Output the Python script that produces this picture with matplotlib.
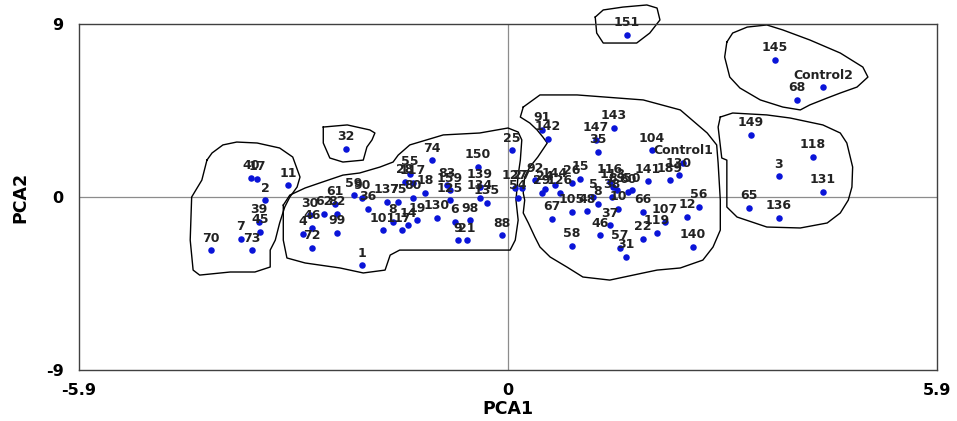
import matplotlib
matplotlib.use("Agg")
import matplotlib.pyplot as plt

plt.rcParams['font.family'] = ['DejaVu Sans']

# ---- data: sample labels and PCA scores ----
labels = [
    # left group
    "40", "17", "11", "2", "39", "45", "7", "73", "70",
    # isolated
    "32",
    # middle group
    "59", "90", "61", "30", "62", "82", "46", "4", "72", "99", "1", "36",
    "137", "75", "101", "17", "14", "19", "8",
    "74", "150", "25", "55", "28", "117", "83", "159", "139", "18", "125",
    "134", "135", "80", "130", "6", "98", "9", "21", "88",
    # right large group
    "91", "142", "143", "147", "35", "104", "Control1", "130", "141", "189",
    "66", "107", "12", "56", "119", "22", "140", "57", "31", "67", "105",
    "48", "8", "10", "37", "46", "58", "92", "27", "24", "144", "29", "126",
    "26", "15", "5", "116", "113", "89", "60", "50", "38", "54", "127",
    # far right groups
    "151", "145", "Control2", "68", "149", "118", "3", "131", "65", "136",
]
pca1 = [
    -3.535, -3.452, -3.026, -3.342, -3.424, -3.411, -3.672, -3.521, -4.085,
    -2.228,
    -2.118, -2.008, -2.379, -2.723, -2.531, -2.352, -2.696, -2.819, -2.696, -2.352, -2.008, -1.925,
    -1.664, -1.513, -1.719, -1.458, -1.375, -1.252, -1.582,
    -1.045, -0.413, 0.055, -1.348, -1.417, -1.307, -0.839, -0.798, -0.385, -1.141, -0.798,
    -0.385, -0.289, -1.307, -0.976, -0.729, -0.523, -0.688, -0.564, -0.083,
    0.468, 0.550, 1.458, 1.210, 1.238, 1.980, 2.407, 2.352, 1.925, 2.228,
    1.857, 2.159, 2.462, 2.627, 2.049, 1.857, 2.544, 1.540, 1.623, 0.605, 0.880,
    1.086, 1.238, 1.513, 1.403, 1.265, 0.880, 0.371, 0.193, 0.509, 0.646, 0.468, 0.715,
    0.880, 0.990, 1.169, 1.403, 1.444, 1.499, 1.650, 1.705, 1.430, 0.138, 0.096,
    1.637, 3.672, 4.332, 3.975, 3.342, 4.195, 3.727, 4.332, 3.314, 3.727,
]
pca2 = [
    0.99, 0.94, 0.62, -0.16, -1.30, -1.82, -2.18, -2.76, -2.76,
    2.50,
    0.10, -0.05, -0.36, -0.94, -0.88, -0.88, -1.61, -1.92, -2.65, -1.87, -3.54, -0.62,
    -0.26, -0.26, -1.72, -1.72, -1.46, -1.20, -1.30,
    1.92, 1.56, 2.44, 1.20, 0.78, 0.73, 0.62, 0.36, 0.52, 0.21, -0.16,
    -0.05, -0.31, -0.05, -1.09, -1.30, -1.20, -2.24, -2.24, -1.98,
    3.49, 3.02, 3.59, 2.97, 2.34, 2.44, 1.77, 1.14, 0.83, 0.88,
    -0.78, -1.30, -1.04, -0.52, -1.87, -2.18, -2.60, -2.65, -3.12, -1.14, -0.78,
    -0.73, -0.36, -0.62, -1.46, -1.98, -2.55, 0.88, 0.47, 0.42, 0.62, 0.21, 0.21,
    0.73, 0.94, 0.00, 0.78, 0.52, 0.36, 0.26, 0.36, 0.00, -0.05, 0.47,
    8.43, 7.13, 5.72, 5.05, 3.23, 2.08, 1.09, 0.26, -0.57, -1.09,
]

# cluster outlines (PCA1, PCA2 vertices)
outline_left_x = [-4.14, -4.07, -3.92, -3.73, -3.45, -3.14, -2.96, -2.86, -2.90, -3.00, -3.07, -3.14,
                  -3.20, -3.27, -3.27, -3.48, -3.82, -4.24, -4.33, -4.37, -4.35, -4.21]
outline_left_y = [1.92, 2.29, 2.71, 2.86, 2.81, 2.55, 2.08, 1.04, 0.52, 0.00, -0.52, -1.35,
                  -2.24, -2.76, -3.64, -3.90, -3.90, -4.06, -3.80, -2.24, 0.00, 0.88]
outline_32_x = [-2.54, -2.21, -1.90, -1.83, -1.87, -1.94, -1.99, -2.27, -2.45, -2.54]
outline_32_y = [3.64, 3.75, 3.49, 3.33, 2.97, 2.60, 1.92, 1.82, 2.03, 2.81]
outline_mid_x = [-3.09, -3.00, -2.79, -2.59, -2.27, -2.04, -1.76, -1.58, -1.51, -1.35, -0.89, -0.39,
                 -0.15, 0.00, 0.14, 0.19, 0.17, 0.14, 0.11, 0.14, 0.10, 0.03, -0.39, -1.21,
                 -1.49, -1.62, -1.69, -1.99, -2.31, -2.79, -3.04, -3.09]
outline_mid_y = [-0.42, 0.10, 0.47, 0.73, 1.14, 1.25, 1.56, 1.82, 2.18, 2.71, 3.23, 3.33,
                 3.49, 3.59, 3.38, 2.97, 1.92, 1.14, -0.16, -1.20, -2.24, -2.76, -2.76, -2.76,
                 -2.76, -3.02, -3.80, -3.95, -3.69, -3.43, -3.17, -2.24]
outline_right_x = [0.21, 0.44, 0.95, 1.86, 2.37, 2.74, 2.87, 2.89, 2.92, 2.92, 2.82, 2.68, 2.37,
                   2.05, 1.86, 1.40, 1.03, 0.81, 0.58, 0.44, 0.37, 0.28, 0.21, 0.23, 0.21,
                   0.23, 0.30, 0.41, 0.54, 0.48, 0.40, 0.30, 0.17]
outline_right_y = [4.68, 5.31, 5.31, 5.05, 4.53, 3.33, 2.71, 1.77, -0.16, -1.72, -2.60, -3.28, -3.69,
                   -3.80, -3.95, -4.32, -4.16, -3.64, -3.12, -2.60, -2.08, -1.35, -0.83, -0.16, 0.21,
                   1.04, 1.56, 2.08, 2.81, 3.12, 3.49, 3.85, 4.16]
outline_top_x = [3.01, 3.09, 3.29, 3.56, 3.78, 4.15, 4.57, 4.88, 4.95, 4.80, 4.57, 4.39, 4.15,
                 4.02, 3.78, 3.47, 3.19, 3.05, 2.98]
outline_top_y = [8.06, 8.53, 8.84, 8.95, 8.69, 8.17, 7.49, 6.76, 6.24, 5.72, 5.41, 5.15, 4.79,
                 4.53, 4.68, 5.05, 5.67, 6.24, 7.28]
outline_far_x = [2.92, 3.09, 3.56, 3.88, 4.33, 4.57, 4.66, 4.74, 4.73, 4.68, 4.57, 4.39, 4.02,
                 3.56, 3.15, 3.01, 3.01, 2.94, 2.89]
outline_far_y = [4.16, 4.37, 4.27, 4.11, 3.75, 3.33, 2.81, 1.56, 0.52, -0.16, -0.83, -1.35, -1.61,
                 -1.56, -1.04, -0.52, 1.92, 2.03, 3.64]
outline_151_x = [1.20, 1.31, 1.58, 1.91, 2.05, 2.09, 1.95, 1.77, 1.31, 1.22]
outline_151_y = [9.36, 9.73, 9.88, 9.99, 9.83, 9.21, 8.53, 8.01, 8.01, 8.53]

x_ticks = [-5.9, 0, 5.9]
x_ticklabels = ["-5.9", "0", "5.9"]
y_ticks = [-9, 0, 9]
y_ticklabels = ["-9", "0", "9"]

fig = plt.figure(figsize=(9.57, 4.21), dpi=100)
ax = fig.add_axes([0.0825, 0.121, 0.8966, 0.822])
ax.set_xlim(-5.9, 5.9)
ax.set_ylim(-9, 9)

ax.axhline(0, color='#8c8c8c', lw=0.9, zorder=1)
ax.axvline(0, color='#8c8c8c', lw=0.9, zorder=1)

outlines = [
    (outline_left_x, outline_left_y), (outline_32_x, outline_32_y),
    (outline_mid_x, outline_mid_y), (outline_right_x, outline_right_y),
    (outline_top_x, outline_top_y), (outline_far_x, outline_far_y),
    (outline_151_x, outline_151_y),
]
for ox, oy in outlines:
    ax.plot(list(ox) + [ox[0]], list(oy) + [oy[0]], color='black', lw=1.0,
            zorder=2, clip_on=False)

ax.scatter(pca1, pca2, s=22, color='#0a14d8', zorder=3, linewidths=0)
for lab, x, y in zip(labels, pca1, pca2):
    ax.annotate(lab, (x, y), xytext=(0, 4), textcoords='offset points',
                ha='center', va='bottom', fontsize=9, fontweight='bold',
                color='#222222', zorder=4)

ax.set_xticks(x_ticks)
ax.set_xticklabels(x_ticklabels, fontsize=11.5, fontweight='bold')
ax.set_yticks(y_ticks)
ax.set_yticklabels(y_ticklabels, fontsize=11.5, fontweight='bold')
ax.tick_params(length=0)
ax.tick_params(axis='x', pad=9)
ax.tick_params(axis='y', pad=11)
ax.set_xlabel("PCA1", fontsize=12.5, fontweight='bold', labelpad=2)
ax.set_ylabel("PCA2", fontsize=12.5, fontweight='bold', labelpad=12)
for sp in ax.spines.values():
    sp.set_color('#404040')
    sp.set_linewidth(1.0)

fig.savefig("out.png", dpi=100)
